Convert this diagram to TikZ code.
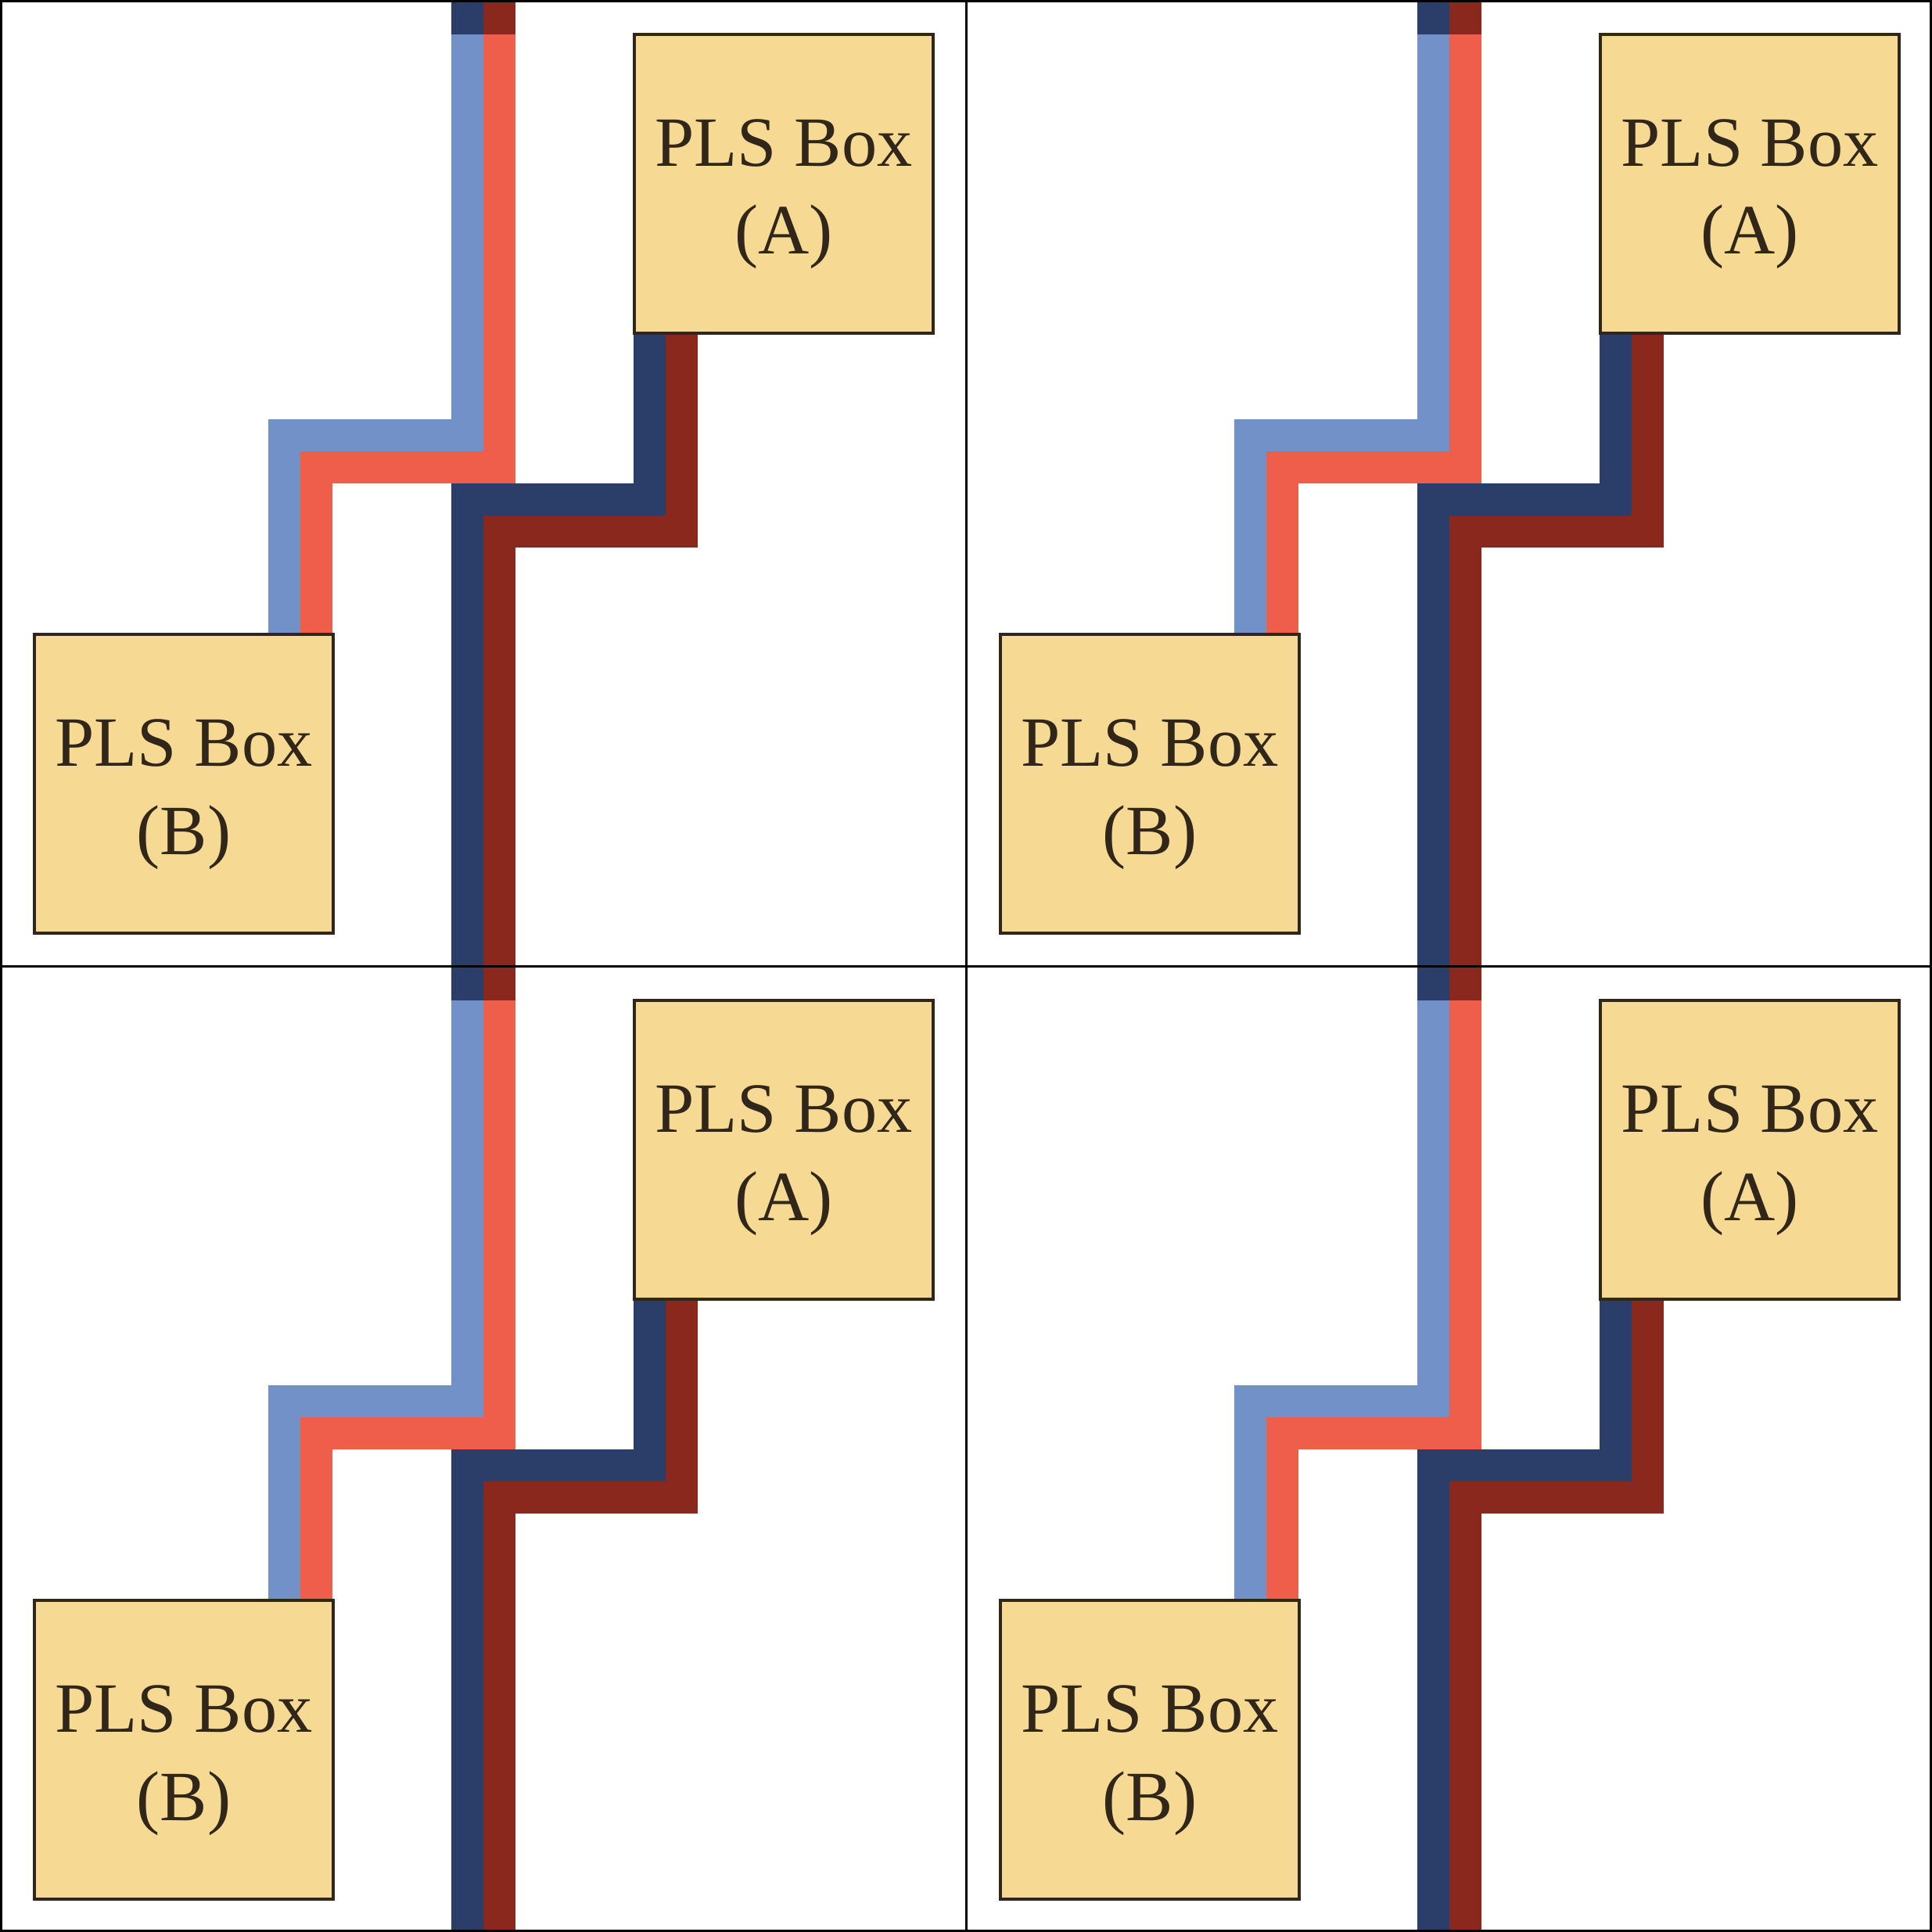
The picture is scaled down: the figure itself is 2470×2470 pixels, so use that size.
\documentclass[tikz,border=0pt]{standalone}
\usepackage{fontspec}
\setmainfont{Liberation Serif}
\definecolor{lblue}{HTML}{7391C9}
\definecolor{lred}{HTML}{EE5E4A}
\definecolor{dblue}{HTML}{2B3E6A}
\definecolor{dred}{HTML}{8B281D}
\definecolor{boxfill}{HTML}{F6D992}
\definecolor{boxline}{HTML}{30261A}
\pgfdeclarelayer{bg}
\pgfsetlayers{bg,main}
\begin{document}
\begin{tikzpicture}[x=0.01cm,y=-0.01cm,
  wire/.style={line width=0.41cm, line cap=butt, line join=miter},
  plsbox/.style={draw=boxline, fill=boxfill, line width=0.04cm,
    minimum width=3.82cm, minimum height=3.82cm, inner sep=0pt,
    align=center, text=boxline, font=\fontsize{25.7pt}{31.9pt}\selectfont},
  gridline/.style={line width=0.03cm, black}]
\useasboundingbox (0,0) rectangle (2470,2470);
\begin{pgfonlayer}{bg}
  \fill[white] (0,0) rectangle (2470,2470);
\end{pgfonlayer}
\foreach \ox/\oy/\q in {0/0/1, 1235/0/2, 0/1235/3, 1235/1235/4} {
  \begin{scope}[shift={(\ox,\oy)}]
    \node[plsbox] (A\q) at (1002,235) {\rule{0pt}{0.87cm}PLS Box\\(A)};
    \node[plsbox] (B\q) at (235,1002) {\rule{0pt}{0.87cm}PLS Box\\(B)};
    \coordinate (top\q-l) at (597.5,0);
    \coordinate (top\q-r) at (638.5,0);
    \coordinate (cap\q-l) at (597.5,44);
    \coordinate (cap\q-r) at (638.5,44);
    \coordinate (bot\q-l) at (597.5,1235);
    \coordinate (bot\q-r) at (638.5,1235);
    \coordinate (lb1\q) at (597.5,556.5);
    \coordinate (lb2\q) at (363.5,556.5);
    \coordinate (rd1\q) at (638.5,597.5);
    \coordinate (rd2\q) at (404.5,597.5);
    \coordinate (nv1\q) at (830.5,638.5);
    \coordinate (nv2\q) at (597.5,638.5);
    \coordinate (dr1\q) at (871.5,679.5);
    \coordinate (dr2\q) at (638.5,679.5);
    \begin{pgfonlayer}{bg}
      \draw[wire, dblue] (top\q-l) -- (cap\q-l);
      \draw[wire, dred] (top\q-r) -- (cap\q-r);
      \draw[wire, lblue] (cap\q-l) -- (lb1\q) -- (lb2\q) -- (lb2\q |- B\q.north);
      \draw[wire, lred] (cap\q-r) -- (rd1\q) -- (rd2\q) -- (rd2\q |- B\q.north);
      \draw[wire, dblue] (nv1\q |- A\q.south) -- (nv1\q) -- (nv2\q) -- (bot\q-l);
      \draw[wire, dred] (dr1\q |- A\q.south) -- (dr1\q) -- (dr2\q) -- (bot\q-r);
    \end{pgfonlayer}
  \end{scope}
}
\draw[gridline] (1.5,1.5) rectangle (2468.5,2468.5);
\draw[gridline] (1235,0) -- (1235,2470);
\draw[gridline] (0,1235) -- (2470,1235);
\end{tikzpicture}
\end{document}
